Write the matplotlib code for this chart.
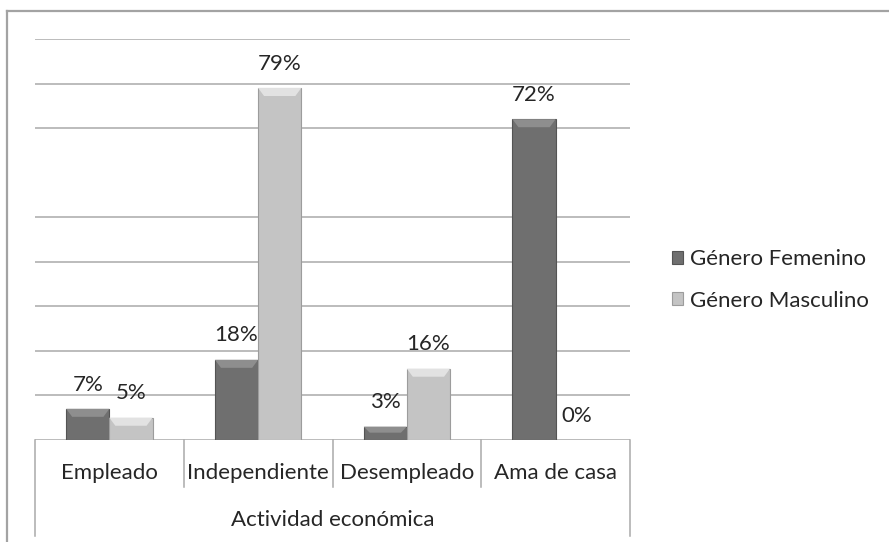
import matplotlib
matplotlib.use("Agg")
import matplotlib.pyplot as plt
from matplotlib.patches import Polygon
from matplotlib.lines import Line2D
import matplotlib.transforms as mtransforms

categories = ["Empleado", "Independiente", "Desempleado", "Ama de casa"]
femenino = [7, 18, 3, 72]
masculino = [5, 79, 16, 0]
series_names = ["Género Femenino", "Género Masculino"]
x_title = "Actividad económica"

plt.rcParams['font.family'] = ['Lato', 'DejaVu Sans']

W, H = 889, 542
fig = plt.figure(figsize=(W / 100, H / 100), dpi=100)
ax = fig.add_axes([35 / W, 1 - 440 / H, (630 - 35) / W, (440 - 39) / H])

txt_color = "#262626"
grid_color = "#aaaaaa"
fem_col, fem_top, fem_edge = "#6f6f6f", "#8e8e8e", "#545454"
mas_col, mas_top, mas_edge = "#c4c4c4", "#e2e2e2", "#9c9c9c"
fs = 16

n = len(categories)
xs = list(range(n))
bw = 0.29

ax.set_xlim(-0.5, n - 0.5)
ax.set_ylim(0, 90)

# gridlines (every 10 %, as drawn in the reference)
for g in [10, 20, 30, 40, 50, 70, 80, 90]:
    ax.axhline(g, color=grid_color, lw=1.1, zorder=0)
ax.axhline(0, color=grid_color, lw=1.1, zorder=0)

bars_f = ax.bar([x - bw / 2 for x in xs], femenino, bw, color=fem_col,
                edgecolor=fem_edge, linewidth=0.8, zorder=2, label=series_names[0])
bars_m = ax.bar([x + bw / 2 for x in xs], masculino, bw, color=mas_col,
                edgecolor=mas_edge, linewidth=0.8, zorder=2, label=series_names[1])

# bevel highlight at the top of each bar
for bars, topc in ((bars_f, fem_top), (bars_m, mas_top)):
    for b in bars:
        h = b.get_height()
        if h <= 0:
            continue
        x0, w = b.get_x(), b.get_width()
        bev = min(1.8, h * 0.45)
        d = 0.04
        poly = Polygon([(x0, h), (x0 + w, h), (x0 + w - d, h - bev), (x0 + d, h - bev)],
                       closed=True, facecolor=topc, edgecolor='none', zorder=3)
        ax.add_patch(poly)

# data labels
for bars, vals in ((bars_f, femenino), (bars_m, masculino)):
    for b, v in zip(bars, vals):
        ax.annotate(f"{v}%", (b.get_x() + b.get_width() / 2, v),
                    xytext=(0, 17.5), textcoords="offset points",
                    ha="center", va="center", fontsize=fs, color=txt_color)

for s in ax.spines.values():
    s.set_visible(False)
ax.set_xticks([])
ax.set_yticks([])
ax.patch.set_alpha(0)

trans = mtransforms.blended_transform_factory(ax.transData, ax.transAxes)
# category separators
for i in range(n + 1):
    xb = i - 0.5
    y_end = -0.239 if i in (0, n) else -0.117
    ax.add_line(Line2D([xb, xb], [0, y_end], transform=trans, color=grid_color,
                       lw=1.1, clip_on=False))

for x, c in zip(xs, categories):
    ax.text(x, -0.082, c, transform=trans, ha="center", va="center",
            fontsize=fs, color=txt_color)
ax.text((n - 1) / 2, -0.199, x_title, transform=trans, ha="center", va="center",
        fontsize=fs, color=txt_color)

# legend
leg = fig.legend(handles=[bars_f, bars_m], labels=series_names, loc="center left",
                 bbox_to_anchor=(663 / W, 1 - 280 / H), frameon=False,
                 fontsize=fs, handlelength=0.5, handleheight=0.5, handletextpad=0.3,
                 labelspacing=0.95, borderaxespad=0)
for t in leg.get_texts():
    t.set_color(txt_color)

# outer chart border
fig.add_artist(Line2D([7 / W, 1], [1 - 11 / H, 1 - 11 / H], transform=fig.transFigure,
                      color="#a3a3a3", lw=1.6))
fig.add_artist(Line2D([7 / W, 7 / W], [1 - 11 / H, 0], transform=fig.transFigure,
                      color="#a3a3a3", lw=1.6))

fig.savefig("out.png", dpi=100, facecolor="white")
